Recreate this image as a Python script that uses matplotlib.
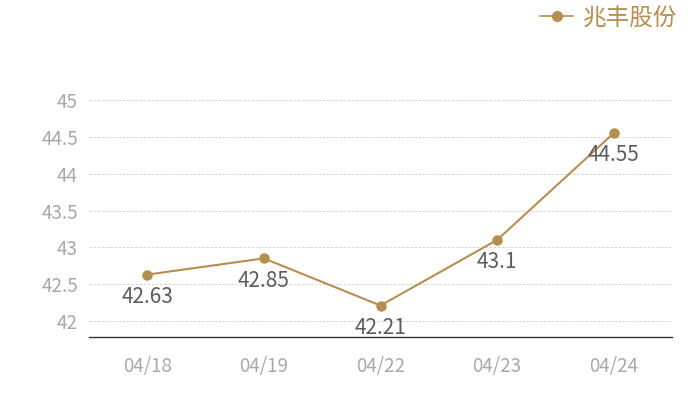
import matplotlib
matplotlib.use("Agg")
import matplotlib.pyplot as plt
from matplotlib.lines import Line2D

# data
dates = ["04/18", "04/19", "04/22", "04/23", "04/24"]
prices = [42.63, 42.85, 42.21, 43.1, 44.55]
series_name = "兆丰股份"
y_ticks = [42, 42.5, 43, 43.5, 44, 44.5, 45]
y_tick_labels = ["42", "42.5", "43", "43.5", "44", "44.5", "45"]

GOLD = "#B58F4F"
plt.rcParams['font.family'] = ['Noto Sans CJK SC', 'DejaVu Sans']

fig = plt.figure(figsize=(7, 4), dpi=100)
ax = fig.add_axes([89/700, 1 - 337/400, 583/700, 237/400])

x = list(range(len(dates)))
ax.plot(x, prices, color=GOLD, lw=1.5, marker="o", ms=6.5, zorder=3)

for xi, v in zip(x, prices):
    ax.annotate(f"{v:g}", (xi, v), xytext=(0, -16), textcoords="offset points",
                ha="center", va="center", fontsize=15, color="#5c5c5c", zorder=4)

ax.set_xlim(-0.5, len(dates) - 0.5)
ax.set_ylim(42 - 16/73.7, 45)
ax.set_xticks(x)
ax.set_xticklabels(dates)
ax.set_yticks(y_ticks)
ax.set_yticklabels(y_tick_labels)
ax.tick_params(length=0, labelsize=13.5, colors="#a8a8a8")
ax.tick_params(axis="x", pad=14)
ax.tick_params(axis="y", pad=8)
ax.grid(axis="y", color="#cccccc", ls=(0, (3, 2)), lw=0.6)
for s in ["top", "left", "right"]:
    ax.spines[s].set_visible(False)
ax.spines["bottom"].set_color("#333333")
ax.spines["bottom"].set_linewidth(1)

handle = Line2D([], [], color=GOLD, lw=1.2, marker="o", ms=7)
fig.legend([handle], [series_name], loc="center right", bbox_to_anchor=(677/700, 1 - 18/400),
           frameon=False, fontsize=17, labelcolor=GOLD, handlelength=1.4,
           handletextpad=0.4, borderaxespad=0.0, borderpad=0.0)

fig.savefig("out.png", dpi=100)
